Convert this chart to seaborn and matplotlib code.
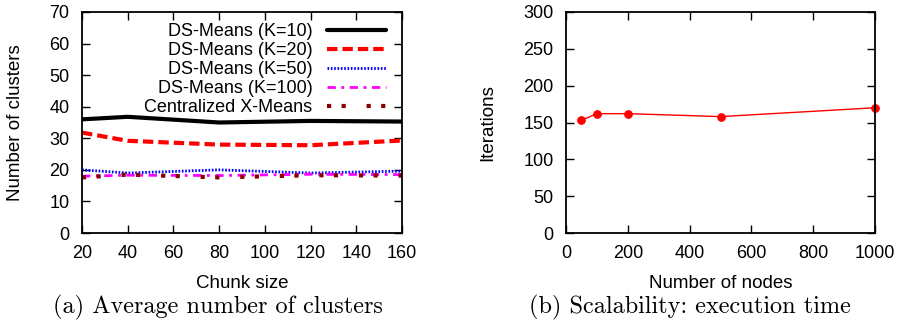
import pandas as pd
import seaborn as sns
import matplotlib.pyplot as plt

# (a) average number of clusters vs chunk size
chunk_size = [20, 40, 80, 120, 160]
k10 = [36.0, 36.8, 35.0, 35.5, 35.3]
k20 = [31.8, 29.2, 28.0, 27.8, 29.3]
k50 = [20.0, 19.0, 20.0, 19.0, 19.6]
k100 = [18.0, 18.3, 18.2, 18.6, 18.5]
xmeans = [17.6, 18.5, 17.6, 18.3, 18.2]

# (b) iterations vs number of nodes
nodes = [50, 100, 200, 500, 1000]
iterations = [153, 162, 162, 158, 170]

sns.set_style("ticks")
plt.rcParams['font.family'] = ['Liberation Sans', 'DejaVu Sans']
plt.rcParams['xtick.direction'] = 'in'
plt.rcParams['ytick.direction'] = 'in'
plt.rcParams['xtick.top'] = True
plt.rcParams['ytick.right'] = True
plt.rcParams['text.color'] = 'black'
plt.rcParams['axes.labelcolor'] = 'black'
plt.rcParams['xtick.color'] = 'black'
plt.rcParams['ytick.color'] = 'black'

fig = plt.figure(figsize=(9.01, 3.22), dpi=100)
ax1 = fig.add_axes([82 / 901, 1 - 233 / 322, 320 / 901, 221 / 322])
ax2 = fig.add_axes([566 / 901, 1 - 233 / 322, 309 / 901, 221 / 322])

series = [
    ('DS-Means (K=10)', k10, 'black', '-', 3.0),
    ('DS-Means (K=20)', k20, 'red', (0, (2.5, 1.2)), 3.0),
    ('DS-Means (K=50)', k50, 'blue', (0, (0.6, 0.6)), 2.0),
    ('DS-Means (K=100)', k100, 'magenta', (0, (3, 2, 1, 2)), 2.0),
    ('Centralized X-Means', xmeans, '#8b0000', (0, (1, 2.5, 1, 5)), 3.0),
]
for label, vals, color, ls, lw in series:
    df = pd.DataFrame({'chunk': chunk_size, 'clusters': vals})
    sns.lineplot(data=df, x='chunk', y='clusters', ax=ax1, color=color,
                 linestyle=ls, linewidth=lw, label=label)

ax1.set_xlim(20, 160)
ax1.set_ylim(0, 70)
ax1.set_xticks(range(20, 161, 20))
ax1.set_yticks(range(0, 71, 10))
ax1.set_xlabel('Chunk size', fontsize=13.5)
ax1.set_ylabel('Number of clusters', fontsize=13.5)
ax1.legend(loc='upper right', frameon=False, markerfirst=False, fontsize=13,
           handlelength=3.3, handletextpad=0.8, labelspacing=0.12,
           borderaxespad=0.2, bbox_to_anchor=(0.985, 1.0))

df2 = pd.DataFrame({'nodes': nodes, 'iterations': iterations})
sns.lineplot(data=df2, x='nodes', y='iterations', ax=ax2, color='red',
             marker='o', markersize=5.5, markeredgecolor='red', linewidth=1.0,
             clip_on=False)
ax2.set_xlim(0, 1000)
ax2.set_ylim(0, 300)
ax2.set_xticks(range(0, 1001, 200))
ax2.set_yticks(range(0, 301, 50))
ax2.set_xlabel('Number of nodes', fontsize=13.5)
ax2.set_ylabel('Iterations', fontsize=13.5)

for ax in (ax1, ax2):
    ax.tick_params(labelsize=13, length=6, width=1.0, pad=9)
    for sp in ax.spines.values():
        sp.set_linewidth(1.3)
        sp.set_color('black')
        sp.set_visible(True)
    ax.xaxis.set_label_coords(0.5, -0.19)
ax1.yaxis.set_label_coords(-0.18, 0.5)
ax2.yaxis.set_label_coords(-0.227, 0.5)

fig.text(218 / 901, 1 - 307 / 322, '(a) Average number of clusters',
         ha='center', va='center', fontsize=17.5, family=['cmr10', 'DejaVu Serif'])
fig.text(690 / 901, 1 - 307 / 322, '(b) Scalability: execution time',
         ha='center', va='center', fontsize=17.5, family=['cmr10', 'DejaVu Serif'])

fig.savefig('out.png', dpi=100)
